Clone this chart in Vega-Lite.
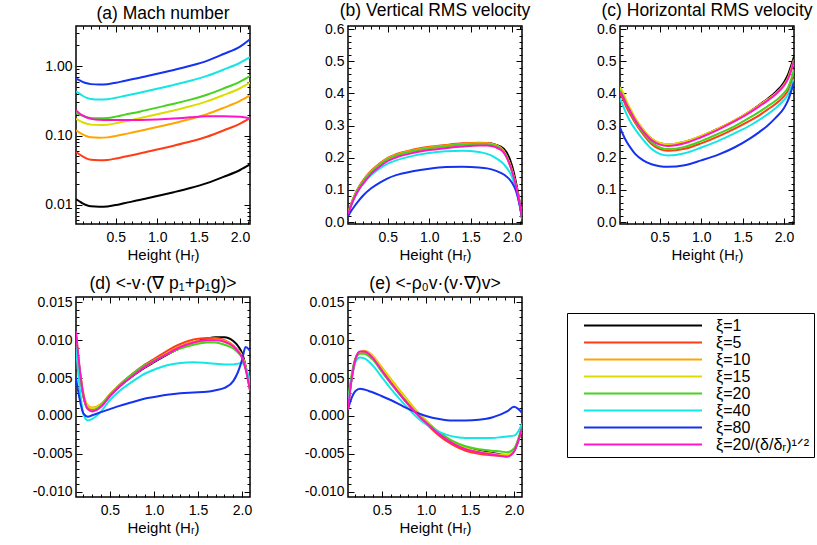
{
"$schema": "https://vega.github.io/schema/vega-lite/v6.json",
"padding": {"left": 31, "top": 0, "right": 5, "bottom": 5},
"config": {
  "font": "Liberation Sans",
  "view": {"stroke": "black", "strokeWidth": 1.5},
  "axis": {"domain": false, "grid": false, "labelFont": "Liberation Sans", "labelFontSize": 14, "labelColor": "black", "tickColor": "black", "tickWidth": 1, "titleFont": "Liberation Sans", "titleFontSize": 15, "titleFontWeight": "normal", "titleColor": "black", "labelFlush": false, "labelOverlap": false, "titlePadding": 3},
  "axisX": {"labelPadding": 6},
  "axisY": {"labelPadding": 4},
  "title": {"fontSize": 17.5, "fontWeight": "normal", "font": "Liberation Sans", "offset": 3, "color": "black"},
  "legend": {"orient": "none", "legendX": 491, "legendY": 287, "strokeColor": "black", "fillColor": "white", "padding": 4, "symbolType": "stroke", "symbolSize": 13924, "symbolStrokeWidth": 2, "clipHeight": 17, "rowPadding": 0, "labelFontSize": 16, "labelFont": "Liberation Sans", "labelColor": "black", "symbolOffset": 12, "labelOffset": 13, "labelLimit": 300}
},
"datasets": {
"a": [
{"x":0.02,"k1":0.0121,"k5":0.058,"k10":0.119,"k15":0.174,"k20":0.213,"k40":0.436,"k80":0.664,"km":0.23},
{"x":0.06,"k1":0.01128,"k5":0.0537,"k10":0.111,"k15":0.1643,"k20":0.2021,"k40":0.4038,"k80":0.6284,"km":0.21},
{"x":0.1,"k1":0.01054,"k5":0.0499,"k10":0.1039,"k15":0.1555,"k20":0.1922,"k40":0.375,"k80":0.5957,"km":0.195},
{"x":0.15,"k1":0.00989,"k5":0.0465,"k10":0.0977,"k15":0.1478,"k20":0.1837,"k40":0.3499,"k80":0.5668,"km":0.182},
{"x":0.2,"k1":0.00954,"k5":0.0447,"k10":0.0944,"k15":0.1437,"k20":0.179,"k40":0.3366,"k80":0.5515,"km":0.174},
{"x":0.3,"k1":0.0094,"k5":0.044,"k10":0.093,"k15":0.142,"k20":0.177,"k40":0.331,"k80":0.545,"km":0.169},
{"x":0.4,"k1":0.00951,"k5":0.0445,"k10":0.0941,"k15":0.1436,"k20":0.1791,"k40":0.3348,"k80":0.5513,"km":0.167},
{"x":0.5,"k1":0.00995,"k5":0.0466,"k10":0.0985,"k15":0.1504,"k20":0.1874,"k40":0.3505,"k80":0.5772,"km":0.167},
{"x":0.6,"k1":0.01055,"k5":0.0494,"k10":0.1043,"k15":0.1593,"k20":0.1986,"k40":0.3714,"k80":0.6115,"km":0.167},
{"x":0.8,"k1":0.01183,"k5":0.0554,"k10":0.1171,"k15":0.1788,"k20":0.2228,"k40":0.4167,"k80":0.6862,"km":0.168},
{"x":1.0,"k1":0.01343,"k5":0.0629,"k10":0.1329,"k15":0.2029,"k20":0.2529,"k40":0.473,"k80":0.7788,"km":0.171},
{"x":1.2,"k1":0.01525,"k5":0.0714,"k10":0.1508,"k15":0.2303,"k20":0.2871,"k40":0.5369,"k80":0.884,"km":0.176},
{"x":1.4,"k1":0.0175,"k5":0.0819,"k10":0.1732,"k15":0.2644,"k20":0.3296,"k40":0.6163,"k80":1.015,"km":0.183},
{"x":1.6,"k1":0.02057,"k5":0.0963,"k10":0.2035,"k15":0.3107,"k20":0.3873,"k40":0.7242,"k80":1.195,"km":0.189},
{"x":1.8,"k1":0.0253,"k5":0.1184,"k10":0.2504,"k15":0.3823,"k20":0.4765,"k40":0.891,"k80":1.5,"km":0.19},
{"x":2.0,"k1":0.03185,"k5":0.149,"k10":0.3151,"k15":0.4811,"k20":0.5997,"k40":1.1214,"k80":1.92,"km":0.186},
{"x":2.12,"k1":0.0383,"k5":0.179,"k10":0.379,"k15":0.5785,"k20":0.7211,"k40":1.3485,"k80":2.45,"km":0.178}
],
"b": [
{"x":0.02,"k1":0.025,"k5":0.027,"k10":0.026,"k15":0.025,"k20":0.025,"k40":0.022,"k80":0.018,"km":0.024},
{"x":0.06,"k1":0.056,"k5":0.058,"k10":0.057,"k15":0.055,"k20":0.055,"k40":0.052,"k80":0.035,"km":0.053},
{"x":0.1,"k1":0.081,"k5":0.084,"k10":0.082,"k15":0.08,"k20":0.081,"k40":0.077,"k80":0.05,"km":0.077},
{"x":0.15,"k1":0.106,"k5":0.109,"k10":0.107,"k15":0.105,"k20":0.106,"k40":0.1,"k80":0.067,"km":0.101},
{"x":0.2,"k1":0.126,"k5":0.129,"k10":0.127,"k15":0.124,"k20":0.125,"k40":0.118,"k80":0.082,"km":0.119},
{"x":0.3,"k1":0.157,"k5":0.16,"k10":0.158,"k15":0.155,"k20":0.156,"k40":0.146,"k80":0.105,"km":0.15},
{"x":0.4,"k1":0.179,"k5":0.182,"k10":0.18,"k15":0.177,"k20":0.178,"k40":0.166,"k80":0.122,"km":0.172},
{"x":0.5,"k1":0.197,"k5":0.2,"k10":0.198,"k15":0.195,"k20":0.196,"k40":0.182,"k80":0.136,"km":0.19},
{"x":0.6,"k1":0.208,"k5":0.211,"k10":0.209,"k15":0.206,"k20":0.207,"k40":0.192,"k80":0.146,"km":0.201},
{"x":0.8,"k1":0.222,"k5":0.225,"k10":0.223,"k15":0.22,"k20":0.221,"k40":0.206,"k80":0.158,"km":0.215},
{"x":1.0,"k1":0.231,"k5":0.234,"k10":0.232,"k15":0.229,"k20":0.23,"k40":0.215,"k80":0.166,"km":0.224},
{"x":1.2,"k1":0.237,"k5":0.24,"k10":0.238,"k15":0.235,"k20":0.236,"k40":0.22,"k80":0.171,"km":0.23},
{"x":1.4,"k1":0.242,"k5":0.245,"k10":0.243,"k15":0.24,"k20":0.241,"k40":0.222,"k80":0.172,"km":0.235},
{"x":1.6,"k1":0.245,"k5":0.247,"k10":0.246,"k15":0.243,"k20":0.244,"k40":0.218,"k80":0.17,"km":0.238},
{"x":1.7,"k1":0.245,"k5":0.246,"k10":0.245,"k15":0.243,"k20":0.243,"k40":0.212,"k80":0.167,"km":0.238},
{"x":1.8,"k1":0.241,"k5":0.24,"k10":0.24,"k15":0.238,"k20":0.238,"k40":0.2,"k80":0.16,"km":0.233},
{"x":1.9,"k1":0.228,"k5":0.22,"k10":0.221,"k15":0.22,"k20":0.219,"k40":0.18,"k80":0.148,"km":0.216},
{"x":2.0,"k1":0.175,"k5":0.158,"k10":0.16,"k15":0.16,"k20":0.158,"k40":0.14,"k80":0.122,"km":0.158},
{"x":2.05,"k1":0.12,"k5":0.108,"k10":0.11,"k15":0.11,"k20":0.108,"k40":0.1,"k80":0.095,"km":0.11},
{"x":2.09,"k1":0.065,"k5":0.058,"k10":0.06,"k15":0.06,"k20":0.058,"k40":0.055,"k80":0.055,"km":0.06},
{"x":2.12,"k1":0.012,"k5":0.012,"k10":0.012,"k15":0.012,"k20":0.012,"k40":0.012,"k80":0.015,"km":0.012}
],
"c": [
{"x":0.02,"k1":0.415,"k5":0.40,"k10":0.418,"k15":0.42,"k20":0.41,"k40":0.385,"k80":0.295,"km":0.405},
{"x":0.06,"k1":0.395,"k5":0.38,"k10":0.398,"k15":0.40,"k20":0.39,"k40":0.36,"k80":0.27,"km":0.387},
{"x":0.1,"k1":0.37,"k5":0.356,"k10":0.373,"k15":0.375,"k20":0.365,"k40":0.335,"k80":0.25,"km":0.365},
{"x":0.15,"k1":0.346,"k5":0.332,"k10":0.348,"k15":0.35,"k20":0.34,"k40":0.31,"k80":0.23,"km":0.342},
{"x":0.2,"k1":0.322,"k5":0.31,"k10":0.323,"k15":0.325,"k20":0.315,"k40":0.29,"k80":0.213,"km":0.318},
{"x":0.3,"k1":0.286,"k5":0.273,"k10":0.287,"k15":0.288,"k20":0.278,"k40":0.256,"k80":0.192,"km":0.282},
{"x":0.4,"k1":0.259,"k5":0.243,"k10":0.259,"k15":0.26,"k20":0.248,"k40":0.228,"k80":0.18,"km":0.255},
{"x":0.5,"k1":0.245,"k5":0.227,"k10":0.245,"k15":0.246,"k20":0.232,"k40":0.212,"k80":0.174,"km":0.241},
{"x":0.6,"k1":0.241,"k5":0.222,"k10":0.242,"k15":0.242,"k20":0.227,"k40":0.207,"k80":0.172,"km":0.237},
{"x":0.8,"k1":0.249,"k5":0.228,"k10":0.25,"k15":0.25,"k20":0.234,"k40":0.214,"k80":0.177,"km":0.245},
{"x":1.0,"k1":0.267,"k5":0.245,"k10":0.268,"k15":0.268,"k20":0.252,"k40":0.232,"k80":0.192,"km":0.264},
{"x":1.2,"k1":0.29,"k5":0.266,"k10":0.29,"k15":0.29,"k20":0.274,"k40":0.252,"k80":0.209,"km":0.287},
{"x":1.4,"k1":0.315,"k5":0.29,"k10":0.316,"k15":0.315,"k20":0.298,"k40":0.276,"k80":0.232,"km":0.313},
{"x":1.6,"k1":0.346,"k5":0.317,"k10":0.346,"k15":0.345,"k20":0.327,"k40":0.302,"k80":0.262,"km":0.343},
{"x":1.7,"k1":0.364,"k5":0.332,"k10":0.363,"k15":0.362,"k20":0.343,"k40":0.318,"k80":0.28,"km":0.36},
{"x":1.8,"k1":0.383,"k5":0.35,"k10":0.381,"k15":0.38,"k20":0.36,"k40":0.335,"k80":0.3,"km":0.378},
{"x":1.9,"k1":0.405,"k5":0.368,"k10":0.4,"k15":0.4,"k20":0.378,"k40":0.355,"k80":0.325,"km":0.398},
{"x":2.0,"k1":0.435,"k5":0.392,"k10":0.427,"k15":0.428,"k20":0.402,"k40":0.38,"k80":0.355,"km":0.425},
{"x":2.05,"k1":0.46,"k5":0.41,"k10":0.448,"k15":0.45,"k20":0.42,"k40":0.398,"k80":0.38,"km":0.447},
{"x":2.09,"k1":0.49,"k5":0.438,"k10":0.475,"k15":0.48,"k20":0.448,"k40":0.423,"k80":0.41,"km":0.475},
{"x":2.12,"k1":0.515,"k5":0.465,"k10":0.5,"k15":0.505,"k20":0.475,"k40":0.445,"k80":0.435,"km":0.503}
],
"d": [
{"x":0.115,"k1":0.0105,"k5":0.0106,"k10":0.0108,"k15":0.0108,"k20":0.0105,"k40":0.009,"k80":0.005,"km":0.0112},
{"x":0.15,"k1":0.0066,"k5":0.0066,"k10":0.0068,"k15":0.0068,"k20":0.0065,"k40":0.0045,"k80":0.0026,"km":0.007},
{"x":0.2,"k1":0.0026,"k5":0.0026,"k10":0.0029,"k15":0.0028,"k20":0.0025,"k40":0.0002,"k80":0.0003,"km":0.0027},
{"x":0.25,"k1":0.0011,"k5":0.001,"k10":0.0014,"k15":0.0013,"k20":0.0009,"k40":-0.0006,"k80":-0.0001,"km":0.0009},
{"x":0.3,"k1":0.0008,"k5":0.0008,"k10":0.0011,"k15":0.001,"k20":0.0007,"k40":-0.0004,"k80":0.0001,"km":0.0006},
{"x":0.4,"k1":0.0014,"k5":0.0014,"k10":0.0016,"k15":0.0015,"k20":0.0014,"k40":0.0006,"k80":0.0005,"km":0.0012},
{"x":0.5,"k1":0.0027,"k5":0.0028,"k10":0.0029,"k15":0.0028,"k20":0.0028,"k40":0.0021,"k80":0.0009,"km":0.0026},
{"x":0.6,"k1":0.0038,"k5":0.004,"k10":0.004,"k15":0.0039,"k20":0.004,"k40":0.0032,"k80":0.0013,"km":0.0038},
{"x":0.75,"k1":0.0052,"k5":0.0055,"k10":0.0054,"k15":0.0053,"k20":0.0055,"k40":0.0045,"k80":0.0018,"km":0.0052},
{"x":0.9,"k1":0.0064,"k5":0.0068,"k10":0.0066,"k15":0.0065,"k20":0.0067,"k40":0.0056,"k80":0.0023,"km":0.0065},
{"x":1.0,"k1":0.0071,"k5":0.0075,"k10":0.0073,"k15":0.0072,"k20":0.0073,"k40":0.0061,"k80":0.0025,"km":0.0072},
{"x":1.15,"k1":0.0081,"k5":0.0086,"k10":0.0083,"k15":0.0082,"k20":0.0082,"k40":0.0067,"k80":0.0028,"km":0.0082},
{"x":1.3,"k1":0.009,"k5":0.0095,"k10":0.0092,"k15":0.009,"k20":0.0089,"k40":0.007,"k80":0.003,"km":0.0091},
{"x":1.45,"k1":0.0097,"k5":0.0101,"k10":0.0098,"k15":0.0096,"k20":0.0094,"k40":0.0071,"k80":0.0031,"km":0.0097},
{"x":1.6,"k1":0.0102,"k5":0.0103,"k10":0.01,"k15":0.0099,"k20":0.0097,"k40":0.007,"k80":0.0032,"km":0.01},
{"x":1.7,"k1":0.0104,"k5":0.0103,"k10":0.0101,"k15":0.01,"k20":0.0097,"k40":0.0069,"k80":0.0034,"km":0.01},
{"x":1.8,"k1":0.0104,"k5":0.01,"k10":0.0099,"k15":0.0098,"k20":0.0094,"k40":0.0068,"k80":0.0037,"km":0.0098},
{"x":1.9,"k1":0.0099,"k5":0.0093,"k10":0.0093,"k15":0.0092,"k20":0.0089,"k40":0.0068,"k80":0.0046,"km":0.0092},
{"x":1.95,"k1":0.0093,"k5":0.0087,"k10":0.0087,"k15":0.0087,"k20":0.0084,"k40":0.0069,"k80":0.0057,"km":0.0086},
{"x":2.0,"k1":0.0083,"k5":0.0079,"k10":0.0079,"k15":0.0079,"k20":0.0077,"k40":0.007,"k80":0.0074,"km":0.0077},
{"x":2.04,"k1":0.0066,"k5":0.0064,"k10":0.0064,"k15":0.0064,"k20":0.0063,"k40":0.0064,"k80":0.0091,"km":0.0062},
{"x":2.09,"k1":0.0036,"k5":0.0035,"k10":0.0035,"k15":0.0035,"k20":0.0035,"k40":0.0046,"k80":0.0086,"km":0.0033}
],
"e": [
{"x":0.115,"k1":0.0012,"k5":0.0012,"k10":0.0012,"k15":0.0013,"k20":0.002,"k40":0.0015,"k80":0.0009,"km":0.0008},
{"x":0.15,"k1":0.0045,"k5":0.0045,"k10":0.0044,"k15":0.0045,"k20":0.005,"k40":0.0045,"k80":0.0022,"km":0.0043},
{"x":0.2,"k1":0.0075,"k5":0.0075,"k10":0.0074,"k15":0.0075,"k20":0.0076,"k40":0.0071,"k80":0.0033,"km":0.0075},
{"x":0.25,"k1":0.0084,"k5":0.0084,"k10":0.0084,"k15":0.0084,"k20":0.0082,"k40":0.0077,"k80":0.0036,"km":0.0085},
{"x":0.3,"k1":0.0085,"k5":0.0084,"k10":0.0086,"k15":0.0085,"k20":0.0082,"k40":0.0076,"k80":0.0035,"km":0.0085},
{"x":0.35,"k1":0.0082,"k5":0.0081,"k10":0.0084,"k15":0.0083,"k20":0.0079,"k40":0.0072,"k80":0.0033,"km":0.0082},
{"x":0.4,"k1":0.0076,"k5":0.0075,"k10":0.0079,"k15":0.0078,"k20":0.0074,"k40":0.0066,"k80":0.0031,"km":0.0076},
{"x":0.5,"k1":0.006,"k5":0.0059,"k10":0.0064,"k15":0.0063,"k20":0.0058,"k40":0.0051,"k80":0.0026,"km":0.006},
{"x":0.6,"k1":0.0045,"k5":0.0044,"k10":0.0049,"k15":0.0048,"k20":0.0043,"k40":0.0036,"k80":0.0021,"km":0.0044},
{"x":0.75,"k1":0.0024,"k5":0.0022,"k10":0.0027,"k15":0.0026,"k20":0.0022,"k40":0.0016,"k80":0.0012,"km":0.0022},
{"x":0.9,"k1":0.0004,"k5":0.0002,"k10":0.0006,"k15":0.0005,"k20":0.0003,"k40":-0.0002,"k80":0.0004,"km":0.0002},
{"x":1.0,"k1":-0.0007,"k5":-0.001,"k10":-0.0006,"k15":-0.0006,"k20":-0.0008,"k40":-0.0011,"k80":0.0,"km":-0.0009},
{"x":1.15,"k1":-0.0022,"k5":-0.0026,"k10":-0.0022,"k15":-0.0022,"k20":-0.0022,"k40":-0.0021,"k80":-0.0004,"km":-0.0024},
{"x":1.3,"k1":-0.0034,"k5":-0.0038,"k10":-0.0034,"k15":-0.0034,"k20":-0.0033,"k40":-0.0027,"k80":-0.0006,"km":-0.0036},
{"x":1.45,"k1":-0.0042,"k5":-0.0046,"k10":-0.0043,"k15":-0.0042,"k20":-0.004,"k40":-0.0029,"k80":-0.0006,"km":-0.0044},
{"x":1.6,"k1":-0.0046,"k5":-0.005,"k10":-0.0048,"k15":-0.0047,"k20":-0.0044,"k40":-0.0029,"k80":-0.0005,"km":-0.0048},
{"x":1.75,"k1":-0.0049,"k5":-0.0052,"k10":-0.005,"k15":-0.005,"k20":-0.0046,"k40":-0.0029,"k80":-0.0002,"km":-0.0051},
{"x":1.85,"k1":-0.0051,"k5":-0.0053,"k10":-0.0052,"k15":-0.0051,"k20":-0.0047,"k40":-0.0028,"k80":0.0002,"km":-0.0053},
{"x":1.92,"k1":-0.0052,"k5":-0.0053,"k10":-0.0052,"k15":-0.0051,"k20":-0.0048,"k40":-0.0027,"k80":0.0006,"km":-0.0054},
{"x":2.0,"k1":-0.0046,"k5":-0.0046,"k10":-0.0046,"k15":-0.0045,"k20":-0.0043,"k40":-0.0026,"k80":0.0012,"km":-0.0047},
{"x":2.05,"k1":-0.0032,"k5":-0.0031,"k10":-0.0031,"k15":-0.003,"k20":-0.003,"k40":-0.002,"k80":0.0009,"km":-0.0032},
{"x":2.09,"k1":-0.0015,"k5":-0.0015,"k10":-0.0015,"k15":-0.0015,"k20":-0.0015,"k40":-0.001,"k80":0.0004,"km":-0.0016}
]
},
"columns": 3,
"spacing": {"row": 73, "column": 98},
"bounds": "flush",
"concat": [
 {"width":174,"height":198,"title":{"text":"(a) Mach number"},"data":{"name":"a"},
  "transform":[{"fold":["k1","k5","k10","k15","k20","k40","k80","km"],"as":["s","v"]}],
  "layer":[
   {"mark":{"type":"line","opacity":0},
    "encoding":{
     "x":{"field":"x","type":"quantitative","scale":{"domain":[0.02,2.12],"nice":false,"zero":false},
      "axis":{"orient":"bottom","labels":false,"title":null,"values":[0.1,0.2,0.3,0.4,0.5,0.6,0.7,0.8,0.9,1,1.1,1.2,1.3,1.4,1.5,1.6,1.7,1.8,1.9,2,2.1],"tickSize":{"condition":{"test":"abs(datum.value*2-round(datum.value*2))<1e-6","value":-6},"value":-3}}},
     "y":{"field":"v","type":"quantitative","scale":{"type":"log","domain":[0.0053,3.8],"nice":false},
      "axis":{"orient":"left","labels":false,"title":null,"values":[0.006,0.007,0.008,0.009,0.01,0.02,0.03,0.04,0.05,0.06,0.07,0.08,0.09,0.1,0.2,0.3,0.4,0.5,0.6,0.7,0.8,0.9,1,2,3],"tickSize":{"condition":{"test":"abs(log(datum.value)/LN10-round(log(datum.value)/LN10))<1e-6","value":-6},"value":-3}}},
     "detail":{"field":"s"}}},
   {"mark":{"type":"line","opacity":0},
    "encoding":{
     "x":{"field":"x","type":"quantitative","scale":{"domain":[0.02,2.12],"nice":false,"zero":false},
      "axis":{"orient":"top","labels":false,"title":null,"values":[0.1,0.2,0.3,0.4,0.5,0.6,0.7,0.8,0.9,1,1.1,1.2,1.3,1.4,1.5,1.6,1.7,1.8,1.9,2,2.1],"tickSize":{"condition":{"test":"abs(datum.value*2-round(datum.value*2))<1e-6","value":-6},"value":-3}}},
     "y":{"field":"v","type":"quantitative","scale":{"type":"log","domain":[0.0053,3.8],"nice":false},
      "axis":{"orient":"right","labels":false,"title":null,"values":[0.006,0.007,0.008,0.009,0.01,0.02,0.03,0.04,0.05,0.06,0.07,0.08,0.09,0.1,0.2,0.3,0.4,0.5,0.6,0.7,0.8,0.9,1,2,3],"tickSize":{"condition":{"test":"abs(log(datum.value)/LN10-round(log(datum.value)/LN10))<1e-6","value":-6},"value":-3}}},
     "detail":{"field":"s"}}},
   {"mark":{"type":"line","strokeWidth":2,"interpolate":"monotone","clip":true},
    "encoding":{
     "x":{"field":"x","type":"quantitative","scale":{"domain":[0.02,2.12],"nice":false,"zero":false},
      "axis":{"orient":"bottom","title":"Height (Hᵣ)","values":[0.5,1,1.5,2],"format":".1f","ticks":false,"tickSize":0}},
     "y":{"field":"v","type":"quantitative","scale":{"type":"log","domain":[0.0053,3.8],"nice":false},
      "axis":{"orient":"left","title":null,"values":[0.01,0.1,1],"format":".2f","ticks":false,"tickSize":0}},
     "color":{"field":"s","type":"nominal","scale":{"domain":["k1","k5","k10","k15","k20","k40","k80","km"],"range":["#000000","#ff3c14","#ffa500","#dcdc00","#46d21e","#14e6e6","#1432f0","#ff14c8"]},"legend":{"title":null,"labelExpr":"datum.value=='km' ? 'ξ=20/(δ/δᵣ)¹ᐟ²' : 'ξ=' + substring(datum.value,1)"}}}}
  ],
  "resolve":{"axis":{"x":"independent","y":"independent"}}},
 {"width":174,"height":198,"title":{"text":"(b) Vertical RMS velocity"},"data":{"name":"b"},
  "transform":[{"fold":["k1","k5","k10","k15","k20","k40","k80","km"],"as":["s","v"]}],
  "layer":[
   {"mark":{"type":"line","opacity":0},
    "encoding":{
     "x":{"field":"x","type":"quantitative","scale":{"domain":[0.02,2.12],"nice":false,"zero":false},
      "axis":{"orient":"bottom","labels":false,"title":null,"values":[0.1,0.2,0.3,0.4,0.5,0.6,0.7,0.8,0.9,1,1.1,1.2,1.3,1.4,1.5,1.6,1.7,1.8,1.9,2,2.1],"tickSize":{"condition":{"test":"abs(datum.value*2-round(datum.value*2))<1e-6","value":-6},"value":-3}}},
     "y":{"field":"v","type":"quantitative","scale":{"domain":[-0.006,0.61],"nice":false,"zero":false},
      "axis":{"orient":"left","labels":false,"title":null,"values":[0,0.02,0.04,0.06,0.08,0.1,0.12,0.14,0.16,0.18,0.2,0.22,0.24,0.26,0.28,0.3,0.32,0.34,0.36,0.38,0.4,0.42,0.44,0.46,0.48,0.5,0.52,0.54,0.56,0.58,0.6],"tickSize":{"condition":{"test":"abs(datum.value*10-round(datum.value*10))<1e-6","value":-6},"value":-3}}},
     "detail":{"field":"s"}}},
   {"mark":{"type":"line","opacity":0},
    "encoding":{
     "x":{"field":"x","type":"quantitative","scale":{"domain":[0.02,2.12],"nice":false,"zero":false},
      "axis":{"orient":"top","labels":false,"title":null,"values":[0.1,0.2,0.3,0.4,0.5,0.6,0.7,0.8,0.9,1,1.1,1.2,1.3,1.4,1.5,1.6,1.7,1.8,1.9,2,2.1],"tickSize":{"condition":{"test":"abs(datum.value*2-round(datum.value*2))<1e-6","value":-6},"value":-3}}},
     "y":{"field":"v","type":"quantitative","scale":{"domain":[-0.006,0.61],"nice":false,"zero":false},
      "axis":{"orient":"right","labels":false,"title":null,"values":[0,0.02,0.04,0.06,0.08,0.1,0.12,0.14,0.16,0.18,0.2,0.22,0.24,0.26,0.28,0.3,0.32,0.34,0.36,0.38,0.4,0.42,0.44,0.46,0.48,0.5,0.52,0.54,0.56,0.58,0.6],"tickSize":{"condition":{"test":"abs(datum.value*10-round(datum.value*10))<1e-6","value":-6},"value":-3}}},
     "detail":{"field":"s"}}},
   {"mark":{"type":"line","strokeWidth":2,"interpolate":"monotone","clip":true},
    "encoding":{
     "x":{"field":"x","type":"quantitative","scale":{"domain":[0.02,2.12],"nice":false,"zero":false},
      "axis":{"orient":"bottom","title":"Height (Hᵣ)","values":[0.5,1,1.5,2],"format":".1f","ticks":false,"tickSize":0}},
     "y":{"field":"v","type":"quantitative","scale":{"domain":[-0.006,0.61],"nice":false,"zero":false},
      "axis":{"orient":"left","title":null,"values":[0,0.1,0.2,0.3,0.4,0.5,0.6],"format":".1f","ticks":false,"tickSize":0}},
     "color":{"field":"s","type":"nominal","scale":{"domain":["k1","k5","k10","k15","k20","k40","k80","km"],"range":["#000000","#ff3c14","#ffa500","#dcdc00","#46d21e","#14e6e6","#1432f0","#ff14c8"]},"legend":{"title":null,"labelExpr":"datum.value=='km' ? 'ξ=20/(δ/δᵣ)¹ᐟ²' : 'ξ=' + substring(datum.value,1)"}}}}
  ],
  "resolve":{"axis":{"x":"independent","y":"independent"}}},
 {"width":174,"height":198,"title":{"text":"(c) Horizontal RMS velocity"},"data":{"name":"c"},
  "transform":[{"fold":["k1","k5","k10","k15","k20","k40","k80","km"],"as":["s","v"]}],
  "layer":[
   {"mark":{"type":"line","opacity":0},
    "encoding":{
     "x":{"field":"x","type":"quantitative","scale":{"domain":[0.02,2.12],"nice":false,"zero":false},
      "axis":{"orient":"bottom","labels":false,"title":null,"values":[0.1,0.2,0.3,0.4,0.5,0.6,0.7,0.8,0.9,1,1.1,1.2,1.3,1.4,1.5,1.6,1.7,1.8,1.9,2,2.1],"tickSize":{"condition":{"test":"abs(datum.value*2-round(datum.value*2))<1e-6","value":-6},"value":-3}}},
     "y":{"field":"v","type":"quantitative","scale":{"domain":[-0.006,0.61],"nice":false,"zero":false},
      "axis":{"orient":"left","labels":false,"title":null,"values":[0,0.02,0.04,0.06,0.08,0.1,0.12,0.14,0.16,0.18,0.2,0.22,0.24,0.26,0.28,0.3,0.32,0.34,0.36,0.38,0.4,0.42,0.44,0.46,0.48,0.5,0.52,0.54,0.56,0.58,0.6],"tickSize":{"condition":{"test":"abs(datum.value*10-round(datum.value*10))<1e-6","value":-6},"value":-3}}},
     "detail":{"field":"s"}}},
   {"mark":{"type":"line","opacity":0},
    "encoding":{
     "x":{"field":"x","type":"quantitative","scale":{"domain":[0.02,2.12],"nice":false,"zero":false},
      "axis":{"orient":"top","labels":false,"title":null,"values":[0.1,0.2,0.3,0.4,0.5,0.6,0.7,0.8,0.9,1,1.1,1.2,1.3,1.4,1.5,1.6,1.7,1.8,1.9,2,2.1],"tickSize":{"condition":{"test":"abs(datum.value*2-round(datum.value*2))<1e-6","value":-6},"value":-3}}},
     "y":{"field":"v","type":"quantitative","scale":{"domain":[-0.006,0.61],"nice":false,"zero":false},
      "axis":{"orient":"right","labels":false,"title":null,"values":[0,0.02,0.04,0.06,0.08,0.1,0.12,0.14,0.16,0.18,0.2,0.22,0.24,0.26,0.28,0.3,0.32,0.34,0.36,0.38,0.4,0.42,0.44,0.46,0.48,0.5,0.52,0.54,0.56,0.58,0.6],"tickSize":{"condition":{"test":"abs(datum.value*10-round(datum.value*10))<1e-6","value":-6},"value":-3}}},
     "detail":{"field":"s"}}},
   {"mark":{"type":"line","strokeWidth":2,"interpolate":"monotone","clip":true},
    "encoding":{
     "x":{"field":"x","type":"quantitative","scale":{"domain":[0.02,2.12],"nice":false,"zero":false},
      "axis":{"orient":"bottom","title":"Height (Hᵣ)","values":[0.5,1,1.5,2],"format":".1f","ticks":false,"tickSize":0}},
     "y":{"field":"v","type":"quantitative","scale":{"domain":[-0.006,0.61],"nice":false,"zero":false},
      "axis":{"orient":"left","title":null,"values":[0,0.1,0.2,0.3,0.4,0.5,0.6],"format":".1f","ticks":false,"tickSize":0}},
     "color":{"field":"s","type":"nominal","scale":{"domain":["k1","k5","k10","k15","k20","k40","k80","km"],"range":["#000000","#ff3c14","#ffa500","#dcdc00","#46d21e","#14e6e6","#1432f0","#ff14c8"]},"legend":{"title":null,"labelExpr":"datum.value=='km' ? 'ξ=20/(δ/δᵣ)¹ᐟ²' : 'ξ=' + substring(datum.value,1)"}}}}
  ],
  "resolve":{"axis":{"x":"independent","y":"independent"}}},
 {"width":174,"height":200,"title":{"text":"(d) <-v·(∇ p₁+ρ₁g)>"},"data":{"name":"d"},
  "transform":[{"fold":["k1","k5","k10","k15","k20","k40","k80","km"],"as":["s","v"]}],
  "layer":[
   {"mark":{"type":"line","opacity":0},
    "encoding":{
     "x":{"field":"x","type":"quantitative","scale":{"domain":[0.115,2.09],"nice":false,"zero":false},
      "axis":{"orient":"bottom","labels":false,"title":null,"values":[0.2,0.3,0.4,0.5,0.6,0.7,0.8,0.9,1,1.1,1.2,1.3,1.4,1.5,1.6,1.7,1.8,1.9,2],"tickSize":{"condition":{"test":"abs(datum.value*2-round(datum.value*2))<1e-6","value":-6},"value":-3}}},
     "y":{"field":"v","type":"quantitative","scale":{"domain":[-0.0107,0.0157],"nice":false,"zero":false},
      "axis":{"orient":"left","labels":false,"title":null,"values":[-0.01,-0.009,-0.008,-0.007,-0.006,-0.005,-0.004,-0.003,-0.002,-0.001,0,0.001,0.002,0.003,0.004,0.005,0.006,0.007,0.008,0.009,0.01,0.011,0.012,0.013,0.014,0.015],"tickSize":{"condition":{"test":"abs(datum.value*200-round(datum.value*200))<1e-6","value":-6},"value":-3}}},
     "detail":{"field":"s"}}},
   {"mark":{"type":"line","opacity":0},
    "encoding":{
     "x":{"field":"x","type":"quantitative","scale":{"domain":[0.115,2.09],"nice":false,"zero":false},
      "axis":{"orient":"top","labels":false,"title":null,"values":[0.2,0.3,0.4,0.5,0.6,0.7,0.8,0.9,1,1.1,1.2,1.3,1.4,1.5,1.6,1.7,1.8,1.9,2],"tickSize":{"condition":{"test":"abs(datum.value*2-round(datum.value*2))<1e-6","value":-6},"value":-3}}},
     "y":{"field":"v","type":"quantitative","scale":{"domain":[-0.0107,0.0157],"nice":false,"zero":false},
      "axis":{"orient":"right","labels":false,"title":null,"values":[-0.01,-0.009,-0.008,-0.007,-0.006,-0.005,-0.004,-0.003,-0.002,-0.001,0,0.001,0.002,0.003,0.004,0.005,0.006,0.007,0.008,0.009,0.01,0.011,0.012,0.013,0.014,0.015],"tickSize":{"condition":{"test":"abs(datum.value*200-round(datum.value*200))<1e-6","value":-6},"value":-3}}},
     "detail":{"field":"s"}}},
   {"mark":{"type":"line","strokeWidth":2,"interpolate":"monotone","clip":true},
    "encoding":{
     "x":{"field":"x","type":"quantitative","scale":{"domain":[0.115,2.09],"nice":false,"zero":false},
      "axis":{"orient":"bottom","title":"Height (Hᵣ)","values":[0.5,1,1.5,2],"format":".1f","ticks":false,"tickSize":0}},
     "y":{"field":"v","type":"quantitative","scale":{"domain":[-0.0107,0.0157],"nice":false,"zero":false},
      "axis":{"orient":"left","title":null,"values":[-0.01,-0.005,0,0.005,0.01,0.015],"format":".3f","labelExpr":"replace(datum.label,'−','-')","ticks":false,"tickSize":0}},
     "color":{"field":"s","type":"nominal","scale":{"domain":["k1","k5","k10","k15","k20","k40","k80","km"],"range":["#000000","#ff3c14","#ffa500","#dcdc00","#46d21e","#14e6e6","#1432f0","#ff14c8"]},"legend":{"title":null,"labelExpr":"datum.value=='km' ? 'ξ=20/(δ/δᵣ)¹ᐟ²' : 'ξ=' + substring(datum.value,1)"}}}}
  ],
  "resolve":{"axis":{"x":"independent","y":"independent"}}},
 {"width":174,"height":200,"title":{"text":"(e) <-ρ₀v·(v·∇)v>"},"data":{"name":"e"},
  "transform":[{"fold":["k1","k5","k10","k15","k20","k40","k80","km"],"as":["s","v"]}],
  "layer":[
   {"mark":{"type":"line","opacity":0},
    "encoding":{
     "x":{"field":"x","type":"quantitative","scale":{"domain":[0.115,2.09],"nice":false,"zero":false},
      "axis":{"orient":"bottom","labels":false,"title":null,"values":[0.2,0.3,0.4,0.5,0.6,0.7,0.8,0.9,1,1.1,1.2,1.3,1.4,1.5,1.6,1.7,1.8,1.9,2],"tickSize":{"condition":{"test":"abs(datum.value*2-round(datum.value*2))<1e-6","value":-6},"value":-3}}},
     "y":{"field":"v","type":"quantitative","scale":{"domain":[-0.0107,0.0157],"nice":false,"zero":false},
      "axis":{"orient":"left","labels":false,"title":null,"values":[-0.01,-0.009,-0.008,-0.007,-0.006,-0.005,-0.004,-0.003,-0.002,-0.001,0,0.001,0.002,0.003,0.004,0.005,0.006,0.007,0.008,0.009,0.01,0.011,0.012,0.013,0.014,0.015],"tickSize":{"condition":{"test":"abs(datum.value*200-round(datum.value*200))<1e-6","value":-6},"value":-3}}},
     "detail":{"field":"s"}}},
   {"mark":{"type":"line","opacity":0},
    "encoding":{
     "x":{"field":"x","type":"quantitative","scale":{"domain":[0.115,2.09],"nice":false,"zero":false},
      "axis":{"orient":"top","labels":false,"title":null,"values":[0.2,0.3,0.4,0.5,0.6,0.7,0.8,0.9,1,1.1,1.2,1.3,1.4,1.5,1.6,1.7,1.8,1.9,2],"tickSize":{"condition":{"test":"abs(datum.value*2-round(datum.value*2))<1e-6","value":-6},"value":-3}}},
     "y":{"field":"v","type":"quantitative","scale":{"domain":[-0.0107,0.0157],"nice":false,"zero":false},
      "axis":{"orient":"right","labels":false,"title":null,"values":[-0.01,-0.009,-0.008,-0.007,-0.006,-0.005,-0.004,-0.003,-0.002,-0.001,0,0.001,0.002,0.003,0.004,0.005,0.006,0.007,0.008,0.009,0.01,0.011,0.012,0.013,0.014,0.015],"tickSize":{"condition":{"test":"abs(datum.value*200-round(datum.value*200))<1e-6","value":-6},"value":-3}}},
     "detail":{"field":"s"}}},
   {"mark":{"type":"line","strokeWidth":2,"interpolate":"monotone","clip":true},
    "encoding":{
     "x":{"field":"x","type":"quantitative","scale":{"domain":[0.115,2.09],"nice":false,"zero":false},
      "axis":{"orient":"bottom","title":"Height (Hᵣ)","values":[0.5,1,1.5,2],"format":".1f","ticks":false,"tickSize":0}},
     "y":{"field":"v","type":"quantitative","scale":{"domain":[-0.0107,0.0157],"nice":false,"zero":false},
      "axis":{"orient":"left","title":null,"values":[-0.01,-0.005,0,0.005,0.01,0.015],"format":".3f","labelExpr":"replace(datum.label,'−','-')","ticks":false,"tickSize":0}},
     "color":{"field":"s","type":"nominal","scale":{"domain":["k1","k5","k10","k15","k20","k40","k80","km"],"range":["#000000","#ff3c14","#ffa500","#dcdc00","#46d21e","#14e6e6","#1432f0","#ff14c8"]},"legend":{"title":null,"labelExpr":"datum.value=='km' ? 'ξ=20/(δ/δᵣ)¹ᐟ²' : 'ξ=' + substring(datum.value,1)"}}}}
  ],
  "resolve":{"axis":{"x":"independent","y":"independent"}}}
]
}
